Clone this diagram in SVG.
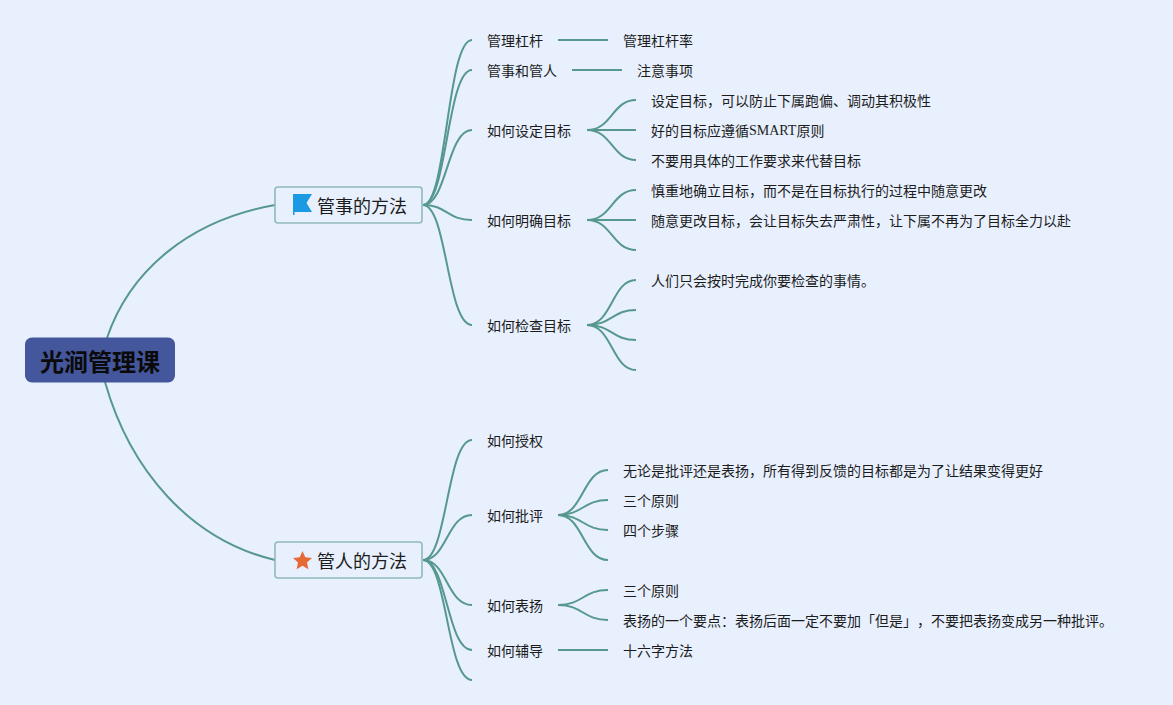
<svg xmlns="http://www.w3.org/2000/svg" width="1173" height="705" viewBox="0 0 1173 705">
<style>
text{font-family:"Noto Sans CJK SC","Liberation Sans",sans-serif;fill:#1c1c1c;dominant-baseline:central;text-spacing-trim:space-all;font-feature-settings:"chws" 0,"palt" 0}
.l{font-size:14px}
.b{font-size:18px}
.e{font-family:"Liberation Serif",serif}
.c{fill:none;stroke:#56988e;stroke-width:2}
.box{fill:#e8f0fd;stroke:#8fb9bb;stroke-width:1.6}
</style>
<rect width="1173" height="705" fill="#e8f0fe"/>
<g id="connectors">
<path class="c" d="M107 338C130 270 190 220 275 205"/>
<path class="c" d="M105 382C130 470 190 540 275 560"/>
<path class="c" d="M423 205C447 205 447 40 472 40"/>
<path class="c" d="M423 205C447 205 447 70 472 70"/>
<path class="c" d="M423 205C447 205 447 130 472 130"/>
<path class="c" d="M423 205C447 205 447 220 472 220"/>
<path class="c" d="M423 205C447 205 447 325 472 325"/>
<path class="c" d="M558 40H608"/>
<path class="c" d="M572 70H622"/>
<path class="c" d="M587 130C612 130 612 100 636 100"/>
<path class="c" d="M587 130H636"/>
<path class="c" d="M587 130C612 130 612 160 636 160"/>
<path class="c" d="M587 220C612 220 612 190 636 190"/>
<path class="c" d="M587 220H636"/>
<path class="c" d="M587 220C612 220 612 250 636 250"/>
<path class="c" d="M587 325C612 325 612 280 636 280"/>
<path class="c" d="M587 325C612 325 612 310 636 310"/>
<path class="c" d="M587 325C612 325 612 340 636 340"/>
<path class="c" d="M587 325C612 325 612 370 636 370"/>
<path class="c" d="M423 560C447 560 447 440 472 440"/>
<path class="c" d="M423 560C447 560 447 515 472 515"/>
<path class="c" d="M423 560C447 560 447 605 472 605"/>
<path class="c" d="M423 560C447 560 447 650 472 650"/>
<path class="c" d="M423 560C447 560 447 680 472 680"/>
<path class="c" d="M558 515C583 515 583 470 608 470"/>
<path class="c" d="M558 515C583 515 583 500 608 500"/>
<path class="c" d="M558 515C583 515 583 530 608 530"/>
<path class="c" d="M558 515C583 515 583 560 608 560"/>
<path class="c" d="M558 605C583 605 583 590 608 590"/>
<path class="c" d="M558 605C583 605 583 620 608 620"/>
<path class="c" d="M558 650H608"/>
</g>
<g id="root"><rect x="25" y="337.500" width="150" height="45" rx="7" fill="#44569c"/><text x="100" y="360" text-anchor="middle" font-size="24" font-weight="700" style="fill:#0a0a0a">光涧管理课</text></g>
<g id="n1"><rect class="box" x="275" y="187" width="147" height="36" rx="3"/><path d="M293 194H312L306.500 203L312 212H294.500V215H293Z" fill="#1b9ae4"/><text class="b" x="317" y="205">管事的方法</text></g>
<g id="n2"><rect class="box" x="275" y="542" width="147" height="36" rx="3"/><path d="M302.500 551L305.300 557.200 312 558 307 562.500 308.400 569.200 302.500 565.800 296.600 569.200 298 562.500 293 558 299.700 557.200Z" fill="#e56a35"/><text class="b" x="317" y="560">管人的方法</text></g>
<g id="n3"><text class="l" x="487" y="40">管理杠杆</text></g>
<g id="n4"><text class="l" x="623" y="40">管理杠杆率</text></g>
<g id="n5"><text class="l" x="487" y="70">管事和管人</text></g>
<g id="n6"><text class="l" x="637" y="70">注意事项</text></g>
<g id="n7"><text class="l" x="487" y="130">如何设定目标</text></g>
<g id="n8"><text class="l" x="651" y="100">设定目标，可以防止下属跑偏、调动其积极性</text></g>
<g id="n9"><text class="l" x="651" y="130">好的目标应遵循<tspan class="e">SMART</tspan>原则</text></g>
<g id="n10"><text class="l" x="651" y="160">不要用具体的工作要求来代替目标</text></g>
<g id="n11"><text class="l" x="487" y="220">如何明确目标</text></g>
<g id="n12"><text class="l" x="651" y="190">慎重地确立目标，而不是在目标执行的过程中随意更改</text></g>
<g id="n13"><text class="l" x="651" y="220">随意更改目标，会让目标失去严肃性，让下属不再为了目标全力以赴</text></g>
<g id="n14"><text class="l" x="487" y="325">如何检查目标</text></g>
<g id="n15"><text class="l" x="651" y="280">人们只会按时完成你要检查的事情。</text></g>
<g id="n16"><text class="l" x="487" y="440">如何授权</text></g>
<g id="n17"><text class="l" x="487" y="515">如何批评</text></g>
<g id="n18"><text class="l" x="623" y="470">无论是批评还是表扬，所有得到反馈的目标都是为了让结果变得更好</text></g>
<g id="n19"><text class="l" x="623" y="500">三个原则</text></g>
<g id="n20"><text class="l" x="623" y="530">四个步骤</text></g>
<g id="n21"><text class="l" x="487" y="605">如何表扬</text></g>
<g id="n22"><text class="l" x="623" y="590">三个原则</text></g>
<g id="n23"><text class="l" x="623" y="620">表扬的一个要点：表扬后面一定不要加「但是」，不要把表扬变成另一种批评。</text></g>
<g id="n24"><text class="l" x="487" y="650">如何辅导</text></g>
<g id="n25"><text class="l" x="623" y="650">十六字方法</text></g>
</svg>
